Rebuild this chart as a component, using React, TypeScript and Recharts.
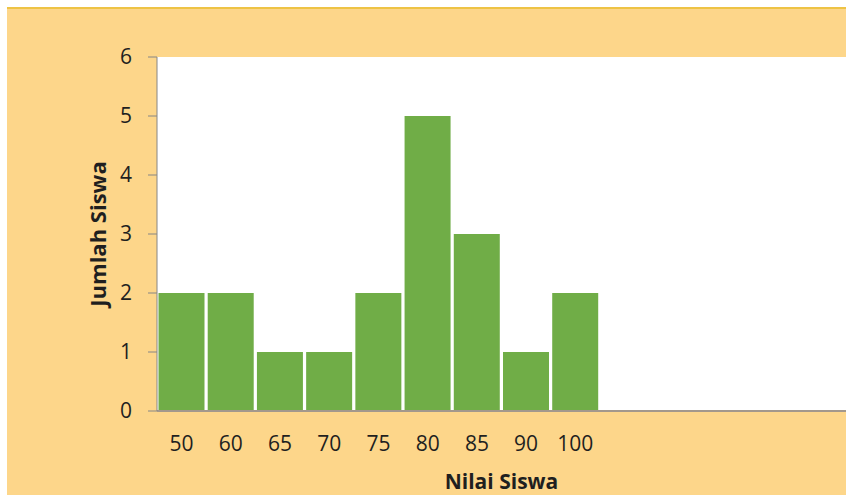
import React from "react";
import { BarChart, Bar, XAxis, YAxis, CartesianGrid } from "recharts";

// ================= Data =================
const nilai = ["50", "60", "65", "70", "75", "80", "85", "90", "100", "", "", "", "", ""];
const jumlah = [2, 2, 1, 1, 2, 5, 3, 1, 2, null, null, null, null, null];
const yTicks = [0, 1, 2, 3, 4, 5, 6];

const data = nilai.map((n, i) => ({ nilai: n, jumlah: jumlah[i] }));

const FONT = "'Open Sans', sans-serif";
const TEXT = "#1f1f1f";

const YLabel = (props: any) => {
  const { viewBox } = props;
  const cx = 97;
  const cy = viewBox.y + viewBox.height / 2;
  return (
    <text
      x={cx}
      y={cy}
      transform={`rotate(-90, ${cx}, ${cy})`}
      textAnchor="middle"
      dominantBaseline="central"
      fontFamily={FONT}
      fontWeight={700}
      fontSize={22}
      fill={TEXT}
    >
      Jumlah Siswa
    </text>
  );
};

const App = () => {
  return (
    <div
      style={{
        position: "absolute",
        left: 0,
        top: 0,
        width: 846,
        height: 495,
        background: "#fff",
      }}
    >
      <div
        style={{
          position: "absolute",
          left: 7,
          top: 7,
          width: 839,
          height: 488,
          background: "#FDD68A",
          borderTop: "2px solid #EEC345",
          boxSizing: "border-box",
        }}
      />
      <div style={{ position: "absolute", left: 0, top: 0 }}>
        <BarChart
          width={846}
          height={495}
          data={data}
          margin={{ top: 57, right: 0, bottom: 0, left: 0 }}
          barCategoryGap={1.5}
        >
          <CartesianGrid horizontal={false} vertical={false} fill="#ffffff" />
          <XAxis
            dataKey="nilai"
            height={84}
            axisLine={{ stroke: "#A3988C", strokeWidth: 2 }}
            tickLine={false}
            tickSize={10}
            tickMargin={15}
            interval={0}
            tick={{ fontFamily: FONT, fontSize: 21, fill: TEXT }}
            label={{
              value: "Nilai Siswa",
              position: "insideBottom",
              offset: 6,
              style: { fontFamily: FONT, fontSize: 21, fontWeight: 700, fill: TEXT },
            }}
          />
          <YAxis
            width={157}
            domain={[0, 6]}
            ticks={yTicks}
            interval={0}
            axisLine={{ stroke: "#868686" }}
            tickLine={{ stroke: "#868686" }}
            tickSize={9}
            tickMargin={16}
            tick={{ fontFamily: FONT, fontSize: 21, fill: TEXT }}
            label={<YLabel />}
          />
          <Bar dataKey="jumlah" fill="#70AD47" isAnimationActive={false} />
        </BarChart>
      </div>
    </div>
  );
};

export default App;
